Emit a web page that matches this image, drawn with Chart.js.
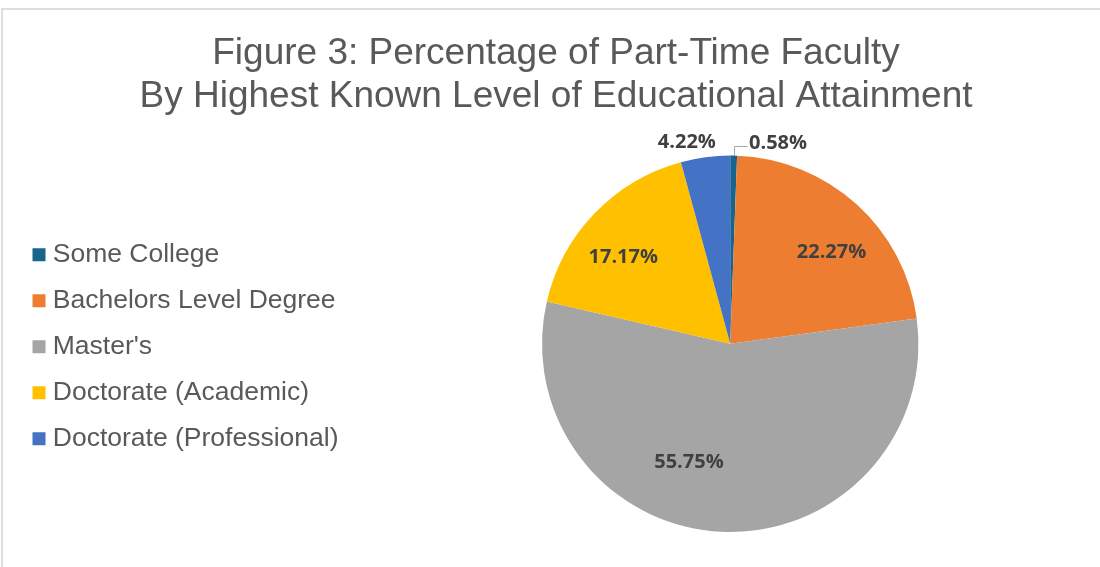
<!DOCTYPE html>
<html><head><meta charset="utf-8">
<script src="https://cdn.jsdelivr.net/npm/chart.js@4.4.1/dist/chart.umd.min.js"></script>
<style>
html,body{margin:0;padding:0;background:#fff;}
#wrap{position:relative;width:1100px;height:567px;overflow:hidden;}
#frame{position:absolute;left:1px;top:8px;width:1200px;height:700px;border-top:2px solid #dedede;border-left:2px solid #dedede;pointer-events:none;}
canvas{position:absolute;left:0;top:0;}
</style></head><body>
<div id="wrap"><canvas id="c" width="1100" height="567"></canvas><div id="frame"></div></div>
<script>
const categories = ["Some College", "Bachelors Level Degree", "Master's", "Doctorate (Academic)", "Doctorate (Professional)"];
const percentages = [0.58, 22.27, 55.75, 17.17, 4.22];
const sliceColors = ["#17658c", "#ED7D31", "#A5A5A5", "#FFC000", "#4472C4"];
const titleLines = ["Figure 3: Percentage of Part-Time Faculty", "By Highest Known Level of Educational Attainment"];

// label style tweaks (pixel nudges from the default mid-angle position)
const labelNudge = [[0, 0], [9, 10], [-35, -19], [-8, 9], [-16, 4]];

const pieShift = {
  id: 'pieShift',
  afterLayout(chart, args, opts) {
    const s = opts.shift || 0;
    chart.chartArea.left += s;
    chart.chartArea.width = chart.chartArea.right - chart.chartArea.left;
  }
};

const pieLabels = {
  id: 'pieLabels',
  afterDatasetsDraw(chart) {
    const ctx = chart.ctx;
    const meta = chart.getDatasetMeta(0);
    ctx.save();
    ctx.font = "bold 20px 'Open Sans'";
    ctx.fillStyle = '#404040';
    ctx.textBaseline = 'middle';
    meta.data.forEach((arc, i) => {
      const p = arc.getProps(['x', 'y', 'startAngle', 'endAngle', 'outerRadius'], true);
      const mid = (p.startAngle + p.endAngle) / 2;
      const v = percentages[i];
      const text = v.toFixed(2) + '%';
      const nx = labelNudge[i][0], ny = labelNudge[i][1];
      if (v < 1) {
        const px = p.x + p.outerRadius * Math.cos(mid);
        const py = p.y + p.outerRadius * Math.sin(mid);
        const ly = py - 9.5;
        ctx.strokeStyle = '#a6a6a6';
        ctx.lineWidth = 1;
        ctx.beginPath();
        ctx.moveTo(Math.round(px) + 0.5, py);
        ctx.lineTo(Math.round(px) + 0.5, Math.round(ly) + 0.5);
        ctx.lineTo(Math.round(px) + 13.5, Math.round(ly) + 0.5);
        ctx.stroke();
        ctx.textAlign = 'left';
        ctx.fillText(text, Math.round(px) + 15, ly - 3);
      } else if (v < 5) {
        const r = p.outerRadius + 19;
        ctx.textAlign = 'center';
        ctx.fillText(text, p.x + r * Math.cos(mid) + nx, p.y + r * Math.sin(mid) + ny);
      } else {
        const r = p.outerRadius * 0.73;
        ctx.textAlign = 'center';
        ctx.fillText(text, p.x + r * Math.cos(mid) + nx, p.y + r * Math.sin(mid) + ny);
      }
    });
    ctx.restore();
  }
};

new Chart(document.getElementById('c'), {
  type: 'pie',
  data: {
    labels: categories,
    datasets: [{
      data: percentages,
      backgroundColor: sliceColors,
      borderWidth: 0,
      hoverOffset: 0,
      offset: 0
    }]
  },
  options: {
    responsive: false,
    animation: false,
    events: [],
    layout: { padding: { left: 19, right: 7, top: 0, bottom: 35 } },
    plugins: {
      tooltip: { enabled: false },
      pieShift: { shift: 19 },
      title: {
        display: true,
        text: titleLines,
        color: '#595959',
        font: { family: "'Liberation Sans', Arial, sans-serif", size: 37, weight: 'normal', lineHeight: 1.17 },
        padding: { top: 32, bottom: 37 }
      },
      legend: {
        position: 'left',
        fullSize: false,
        align: 'center',
        title: { display: true, text: ' ', font: { size: 6, lineHeight: 1 }, padding: 0 },
        labels: {
          usePointStyle: true,
          pointStyle: 'rect',
          boxWidth: 1,
          boxHeight: 13,
          padding: 19.5,
          color: '#595959',
          font: { family: "'Liberation Sans', Arial, sans-serif", size: 26.5 }
        }
      }
    }
  },
  plugins: [pieShift, pieLabels]
});
</script>
</body></html>
